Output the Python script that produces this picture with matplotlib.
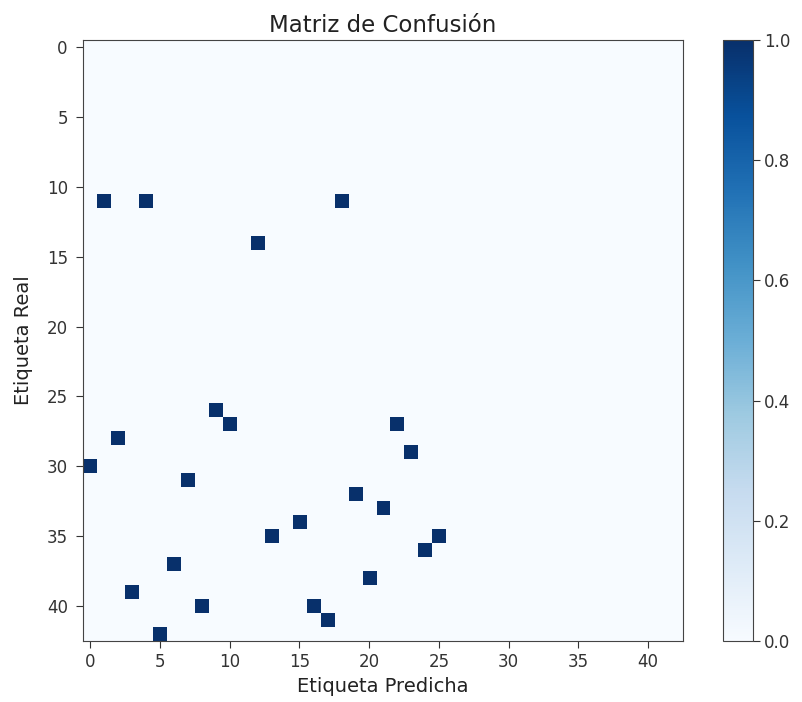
import numpy as np
import matplotlib
matplotlib.use("Agg")
import matplotlib.pyplot as plt

n_classes = 43
true_labels = [11, 11, 11, 14, 26, 27, 27, 28, 29, 30, 31, 32, 33, 34, 35, 35, 36, 37, 38, 39, 40, 40, 41, 42]
pred_labels = [1, 4, 18, 12, 9, 10, 22, 2, 23, 0, 7, 19, 21, 15, 13, 25, 24, 6, 20, 3, 8, 16, 17, 5]
values = [1.0] * len(true_labels)

cm = np.zeros((n_classes, n_classes))
for r, c, v in zip(true_labels, pred_labels, values):
    cm[r, c] = v

fig = plt.figure(figsize=(8.03, 7.02), dpi=100)
ax = fig.add_axes([0.1034, 0.0869, 0.7472, 0.856])
cax = fig.add_axes([0.9004, 0.0869, 0.0374, 0.856])
im = ax.imshow(cm, cmap="Blues", vmin=0, vmax=1, interpolation="nearest", aspect="auto")
ax.set_title("Matriz de Confusión", fontsize=16.5, pad=6, color="#222222")
ax.set_xlabel("Etiqueta Predicha", fontsize=14, labelpad=4, color="#222222")
ax.set_ylabel("Etiqueta Real", fontsize=14, labelpad=10, color="#222222")
ax.set_xticks(np.arange(0, 41, 5))
ax.set_yticks(np.arange(0, 41, 5))
ax.tick_params(labelsize=12, length=5, pad=4, colors="#333333")
ax.tick_params(axis="y", pad=6)
for s in ax.spines.values():
    s.set_color("#444444")
cb = fig.colorbar(im, cax=cax)
cb.ax.tick_params(labelsize=12, length=5, pad=3, colors="#333333")
cb.outline.set_edgecolor("#444444")
fig.savefig("out.png", dpi=100)
